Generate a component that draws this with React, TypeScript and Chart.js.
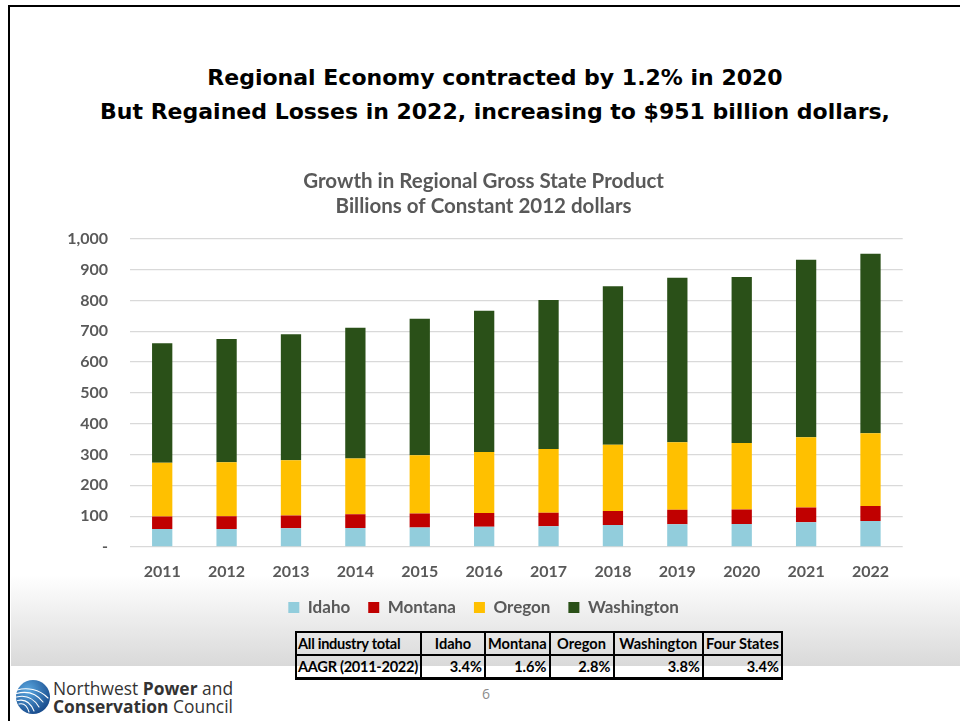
import React, { useEffect, useRef } from "react";
import { Chart, registerables } from "chart.js";

Chart.register(...registerables);

const titleLines = [
  "Regional Economy contracted by 1.2% in 2020",
  "But Regained Losses in 2022, increasing to $951 billion dollars,",
];
const chartTitleLines = ["Growth in Regional Gross State Product", "Billions of Constant 2012 dollars"];
const years = ["2011", "2012", "2013", "2014", "2015", "2016", "2017", "2018", "2019", "2020", "2021", "2022"];
const idaho = [58, 58, 61, 62, 63, 66, 67, 71, 74, 75, 80, 84];
const montana = [41, 42, 41, 44, 46, 44, 44, 46, 47, 47, 48, 49];
const oregon = [174, 175, 179, 181, 189, 198, 207, 215, 219, 215, 228, 236];
const washington = [388, 400, 409, 424, 442, 458, 483, 514, 533, 539, 576, 582];
const seriesNames = ["Idaho", "Montana", "Oregon", "Washington"];
const seriesColors = ["#92CDDC", "#C00000", "#FFC000", "#2A5018"];
const tableHeader = ["All industry total", "Idaho", "Montana", "Oregon", "Washington", "Four States"];
const aagrLabel = "AAGR (2011-2022)";
const aagrValues = ["3.4%", "1.6%", "2.8%", "3.8%", "3.4%"];
const yTickStep = 100;
const yMax = 1000;

const GRAY = "#595959";
const FONT = "Lato, 'Noto Sans', sans-serif";

function BarChart() {
  const ref = useRef<HTMLCanvasElement | null>(null);
  useEffect(() => {
    if (!ref.current) return;
    const series = [idaho, montana, oregon, washington];
    const chart = new Chart(ref.current, {
      type: "bar",
      data: {
        labels: years,
        datasets: series.map((d, i) => ({
          label: seriesNames[i],
          data: d,
          backgroundColor: seriesColors[i],
          borderWidth: 0,
          categoryPercentage: 1,
          barPercentage: 0.315,
        })),
      },
      options: {
        animation: false,
        responsive: true,
        maintainAspectRatio: false,
        layout: { padding: { left: 64.5, right: 57.3, top: 0, bottom: 0 } },
        plugins: {
          title: {
            display: true,
            text: chartTitleLines,
            color: GRAY,
            font: { family: FONT, size: 20.5, weight: "bold", lineHeight: 25 / 20.5 },
            padding: { top: 18.5, bottom: 20.2 },
          },
          legend: {
            position: "bottom",
            labels: {
              color: GRAY,
              font: { family: FONT, size: 17, weight: "bold" },
              boxWidth: 11,
              boxHeight: 11,
              padding: 18,
            },
          },
          tooltip: { enabled: false },
        },
        scales: {
          x: {
            stacked: true,
            afterFit: (scale: any) => {
              scale.height = 34;
            },
            grid: { display: false, drawTicks: false },
            border: { display: false },
            ticks: { color: GRAY, font: { family: FONT, size: 16, weight: "bold" }, padding: 15 },
          },
          y: {
            stacked: true,
            min: 0,
            max: yMax,
            afterFit: (scale: any) => {
              scale.width = 65.5;
            },
            grid: { color: "#d9d9d9", lineWidth: 1.3, drawTicks: false },
            border: { display: false },
            ticks: {
              stepSize: yTickStep,
              color: GRAY,
              padding: 22,
              font: { family: FONT, size: 16, weight: "bold" },
              callback: (v: any) => (Number(v) === 0 ? "-" : Number(v).toLocaleString("en-US")),
            },
          },
        },
      },
    });
    return () => chart.destroy();
  }, []);
  return (
    <div style={{ position: "absolute", left: 0, top: 150, width: 960, height: 476 }}>
      <canvas ref={ref} />
    </div>
  );
}

function Logo() {
  return (
    <div style={{ position: "absolute", left: 15, top: 679 }}>
      <svg width="36" height="36" viewBox="0 0 36 36" style={{ position: "absolute", left: 0, top: 0 }}>
        <defs>
          <radialGradient id="lg" cx="35%" cy="30%" r="75%">
            <stop offset="0" stopColor="#5aa7e0" />
            <stop offset="1" stopColor="#174a8b" />
          </radialGradient>
        </defs>
        <circle cx="18" cy="18" r="17" fill="url(#lg)" />
        <g fill="none" stroke="#ffffff" strokeWidth="1.1" strokeLinecap="round">
          <path d="M2 11 C12 8, 24 10, 33 19" />
          <path d="M1.5 14.5 C11 12, 21 14, 28 23" />
          <path d="M1.5 18 C10 16, 18 18, 24 28" />
          <path d="M2.5 21.5 C9 20, 15 22, 19 32" />
          <path d="M4 25 C8 24, 12 26, 14 33" />
        </g>
      </svg>
      <div
        style={{
          position: "absolute",
          left: 38,
          top: 0,
          whiteSpace: "nowrap",
          fontFamily: "'Open Sans', sans-serif",
          fontSize: 17.4,
          lineHeight: "18px",
          color: "#333333",
        }}
      >
        <div>
          Northwest <b>Power</b> and
        </div>
        <div>
          <b>Conservation</b> Council
        </div>
      </div>
    </div>
  );
}

export default function App() {
  const cellBase: React.CSSProperties = {
    border: "2px solid #000",
    padding: "0 2px",
    height: 21,
    fontFamily: FONT,
    fontWeight: "bold",
    fontSize: 14.6,
    lineHeight: "19px",
    color: "#000",
    whiteSpace: "nowrap",
    overflow: "hidden",
  };
  const firstCol: React.CSSProperties = { textAlign: "left", padding: "0 1px", letterSpacing: "-0.3px" };
  const colWidths = [125, 64, 64.5, 64, 89.5, 79];
  return (
    <div
      style={{
        position: "absolute",
        left: 0,
        top: 0,
        width: 960,
        height: 721,
        overflow: "hidden",
        background: "#fff",
      }}
    >
      <div
        style={{
          position: "absolute",
          left: 8,
          top: 5,
          width: 1000,
          height: 800,
          borderLeft: "2.5px solid #000",
          borderTop: "2.5px solid #000",
        }}
      />
      <div
        style={{
          position: "absolute",
          left: 10.5,
          top: 575,
          width: 960,
          height: 91,
          background: "linear-gradient(to bottom, #ffffff, #d9d9d9)",
        }}
      />
      <div
        style={{
          position: "absolute",
          left: 30,
          top: 61,
          width: 930,
          textAlign: "center",
          fontFamily: "'DejaVu Sans', sans-serif",
          fontWeight: "bold",
          fontSize: 22,
          lineHeight: "34px",
          color: "#000",
        }}
      >
        {titleLines.map((t) => (
          <div key={t} style={{ whiteSpace: "nowrap" }}>
            {t}
          </div>
        ))}
      </div>
      <BarChart />
      <table
        style={{
          position: "absolute",
          left: 295,
          top: 631,
          borderCollapse: "collapse",
          tableLayout: "fixed",
          width: 486,
        }}
      >
        <colgroup>
          {colWidths.map((w, i) => (
            <col key={i} style={{ width: w }} />
          ))}
        </colgroup>
        <tbody>
          <tr>
            {tableHeader.map((h, i) => (
              <td key={h} style={i === 0 ? { ...cellBase, ...firstCol } : { ...cellBase, textAlign: "center" }}>
                {h}
              </td>
            ))}
          </tr>
          <tr>
            <td style={{ ...cellBase, ...firstCol, borderBottom: "3px solid #000" }}>{aagrLabel}</td>
            {aagrValues.map((v, i) => (
              <td key={i} style={{ ...cellBase, textAlign: "right", borderBottom: "3px solid #000" }}>
                {v}
              </td>
            ))}
          </tr>
        </tbody>
      </table>
      <Logo />
      <div
        style={{
          position: "absolute",
          left: 482,
          top: 684,
          fontFamily: "'Open Sans', sans-serif",
          fontSize: 14,
          color: "#8c8c8c",
        }}
      >
        6
      </div>
    </div>
  );
}
